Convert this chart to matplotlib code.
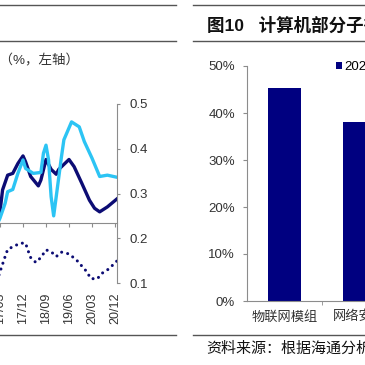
import matplotlib
matplotlib.use("Agg")
import matplotlib.pyplot as plt
from matplotlib.lines import Line2D

plt.rcParams['font.family'] = ['Liberation Sans', 'Noto Sans CJK SC', 'DejaVu Sans']

# ---- left chart data (months after 2017/03) ----
dark_months = [-2, 0, 1, 3, 5, 7, 9, 10, 12, 15, 16, 18, 20, 22, 23, 27, 29, 32, 35, 37, 39, 42, 46]
dark_vals = [0.22, 0.259, 0.308, 0.341, 0.345, 0.367, 0.384, 0.371, 0.338, 0.317, 0.330, 0.376,
             0.354, 0.343, 0.354, 0.376, 0.360, 0.323, 0.285, 0.267, 0.259, 0.270, 0.289]

cyan_months = [-2, 0, 2, 3, 5, 7, 9, 10, 13, 16, 17, 18, 19, 20, 21, 22, 24, 25, 28, 31, 33, 36, 39, 42, 46]
cyan_vals = [0.22, 0.245, 0.278, 0.304, 0.309, 0.345, 0.375, 0.356, 0.345, 0.347, 0.390, 0.408, 0.375,
             0.293, 0.250, 0.293, 0.380, 0.420, 0.460, 0.449, 0.416, 0.379, 0.338, 0.341, 0.336]

dot_months = [-2, 0, 1, 2, 3, 5, 8, 10, 11, 12, 14, 16, 18, 20, 22, 24, 27, 30, 32, 34, 35.5, 38, 40, 43, 45, 46]
dot_vals = [0.09, 0.125, 0.142, 0.159, 0.175, 0.181, 0.189, 0.189, 0.172, 0.157, 0.146, 0.157, 0.174,
            0.170, 0.159, 0.169, 0.165, 0.151, 0.138, 0.125, 0.110, 0.109, 0.122, 0.133, 0.146, 0.150]

x_tick_months = [0, 9, 18, 27, 36, 45]
x_tick_labels = ['17/03', '17/12', '18/09', '19/06', '20/03', '20/12']
right_ticks = [0.1, 0.2, 0.3, 0.4, 0.5]

# ---- right chart data ----
categories = ['物联网模组', '网络安全']
share = [0.453, 0.381]
series_name = '2020'
pct_ticks = [0, 0.1, 0.2, 0.3, 0.4, 0.5]

W = H = 365
def fx(px):
    return px / W
def fy(py):
    return 1 - py / H

NAVY = '#0c0c74'
CYAN = '#2cc4f4'
GRAY = '#8c8c8c'
TXT = '#333333'

fig = plt.figure(figsize=(3.65, 3.65), dpi=100)

# header / footer rules of the report page
for x0, x1 in [(0, 176), (193, 365)]:
    for y in (5, 41, 334.5):
        fig.add_artist(Line2D([fx(x0), fx(x1)], [fy(y), fy(y)], color='#555555', lw=1.0))

fig.text(fx(79), fy(61), '速（%，左轴）', ha='right', va='center', fontsize=9.7, color=TXT)
fig.text(fx(207), fy(25), '图10   计算机部分子行业毛利率', ha='left', va='center',
         fontsize=12.6, fontweight='bold', color='#111111')
fig.text(fx(206), fy(349), '资料来源：根据海通分析整理', ha='left', va='center',
         fontsize=10.8, color='#111111')

# ---- left chart ----
pxm = 92 / 36.0
ax = fig.add_axes([fx(-60), fy(283), 177 / W, 179 / H])
ax.set_xlim(-60 / pxm, 117 / pxm)
ax.set_ylim(0.1, 0.5)
ax.patch.set_alpha(0)

ax.plot(dot_months, dot_vals, color=NAVY, lw=2.2, linestyle=(0, (0.01, 2.0)),
        dash_capstyle='round', solid_capstyle='round')
ax.plot(dark_months, dark_vals, color=NAVY, lw=2.4, solid_joinstyle='round')
ax.plot(cyan_months, cyan_vals, color=CYAN, lw=2.4, solid_joinstyle='round')

for s in ('left', 'top'):
    ax.spines[s].set_visible(False)
ax.spines['right'].set_color(GRAY)
ax.spines['bottom'].set_color(GRAY)
ax.spines['bottom'].set_position(('data', 0.234))
ax.set_xticks(x_tick_months)
ax.tick_params(axis='x', direction='out', length=3, color=GRAY, labelbottom=False)
ax.yaxis.tick_right()
ax.set_yticks(right_ticks)
ax.set_yticklabels(['%.1f' % v for v in right_ticks])
ax.tick_params(axis='y', direction='out', length=1.8, color=GRAY, pad=7.5,
               labelsize=9.5, labelcolor=TXT)

sec = ax.secondary_xaxis('bottom')
sec.set_xticks(x_tick_months)
sec.set_xticklabels(x_tick_labels)
sec.spines['bottom'].set_visible(False)
sec.tick_params(length=0, pad=7.2, labelsize=9, labelcolor=TXT, labelrotation=90)

# ---- right chart ----
ax2 = fig.add_axes([fx(247), fy(301), 150 / W, 235 / H])
ax2.set_xlim(-0.5, 1.5)
ax2.set_ylim(0, 0.5)
ax2.bar(range(len(categories)), share, width=0.44, color='#000080', label=series_name)
for s in ('top', 'right'):
    ax2.spines[s].set_visible(False)
ax2.spines['left'].set_color(GRAY)
ax2.spines['bottom'].set_color(GRAY)
ax2.set_yticks(pct_ticks)
ax2.set_yticklabels(['%d%%' % round(v * 100) for v in pct_ticks])
ax2.tick_params(axis='y', direction='out', length=2.9, color=GRAY, pad=5.8,
                labelsize=9.5, labelcolor=TXT)
ax2.set_xticks(range(len(categories)))
ax2.set_xticklabels(categories)
ax2.set_xticks([0.5, 1.5], minor=True)
ax2.tick_params(axis='x', which='major', length=0, pad=7, labelsize=9.5, labelcolor=TXT)
ax2.tick_params(axis='x', which='minor', direction='out', length=2.9, color=GRAY)
ax2.legend(loc='center left', bbox_to_anchor=(fx(336), fy(67)), bbox_transform=fig.transFigure,
           frameon=False, fontsize=9.5, handlelength=0.45, handleheight=0.45,
           handletextpad=0.2, borderpad=0, borderaxespad=0)

fig.savefig('out.png', dpi=100)
